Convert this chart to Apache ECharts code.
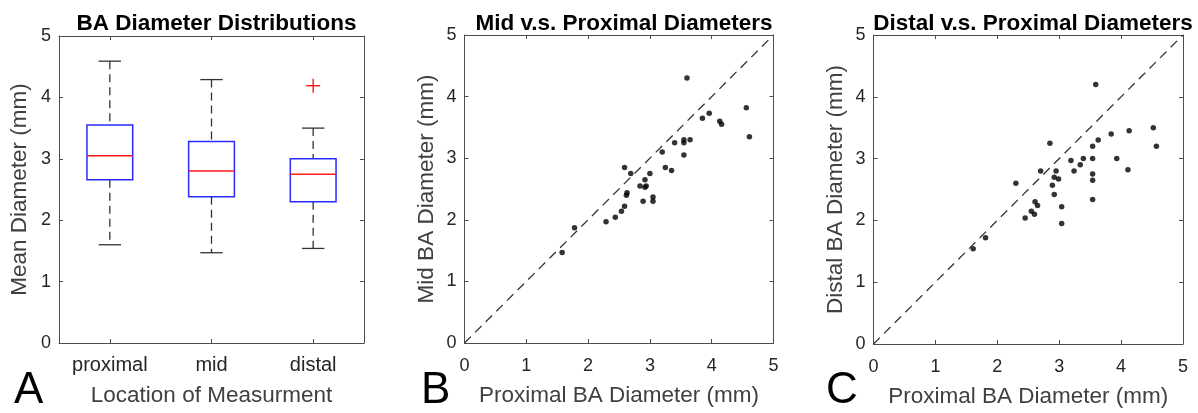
<!DOCTYPE html>
<html>
<head>
<meta charset="utf-8">
<script src="https://cdn.jsdelivr.net/npm/echarts@6/dist/echarts.min.js"></script>
<style>
html,body{margin:0;padding:0;background:#fff;}
#chart{width:1198px;height:413px;}
</style>
</head>
<body>
<div id="chart"></div>
<script>
// ---- Panel A: box plot statistics ----
const categories = ['proximal', 'mid', 'distal'];
const whiskerLow = [1.60, 1.47, 1.54];
const quartile1 = [2.66, 2.38, 2.30];
const medians = [3.05, 2.80, 2.75];
const quartile3 = [3.55, 3.28, 3.00];
const whiskerHigh = [4.59, 4.29, 3.50];
const outlierCategory = [2];
const outlierValue = [4.19];

// ---- Panel B: proximal vs mid ----
const proximalB = [1.58, 1.78, 2.29, 2.44, 2.54, 2.59, 2.62, 2.63, 2.59, 2.69, 2.84, 2.92, 2.92, 2.94, 2.89, 3.00, 3.05, 3.05, 3.20, 3.25, 3.35, 3.40, 3.55, 3.55, 3.65, 3.55, 3.60, 3.85, 3.96, 4.13, 4.16, 4.56, 4.61];
const midB = [1.47, 1.87, 1.97, 2.04, 2.14, 2.22, 2.40, 2.44, 2.85, 2.75, 2.55, 2.65, 2.53, 2.55, 2.30, 2.75, 2.37, 2.30, 3.10, 2.85, 2.80, 3.25, 3.30, 3.25, 3.30, 3.05, 4.30, 3.65, 3.73, 3.60, 3.55, 3.82, 3.35];

// ---- Panel C: proximal vs distal ----
const proximalC = [1.61, 1.81, 2.30, 2.45, 2.55, 2.60, 2.61, 2.65, 2.70, 2.85, 2.89, 2.92, 2.92, 2.95, 2.99, 3.04, 3.04, 3.19, 3.24, 3.34, 3.39, 3.54, 3.54, 3.54, 3.54, 3.54, 3.59, 3.63, 3.84, 3.93, 4.11, 4.13, 4.52, 4.57];
const distalC = [1.54, 1.72, 2.60, 2.04, 2.15, 2.10, 2.30, 2.24, 2.80, 3.25, 2.57, 2.70, 2.42, 2.80, 2.67, 2.22, 1.95, 2.97, 2.80, 2.90, 3.00, 3.20, 3.00, 2.75, 2.65, 2.34, 4.20, 3.30, 3.40, 3.00, 2.82, 3.45, 3.50, 3.20];

const identityLine = [[0, 0], [5, 5]];
const valueTicks = [0, 1, 2, 3, 4, 5];

const FONT = 'Liberation Sans, Arial, sans-serif';
const AXIS_COLOR = '#4d4d4d';
const TICK_TEXT = '#262626';
const NAME_TEXT = '#404040';
const NAME_SIZE = 22.5;

const chart = echarts.init(document.getElementById('chart'), null, {renderer: 'canvas'});

const grids = [
  {left: 59, top: 36, width: 305, height: 307},
  {left: 464.5, top: 35, width: 309, height: 308},
  {left: 873.5, top: 35, width: 309.5, height: 309}
];

function valueAxis(gridIndex, position, showLabels, name, nameGap) {
  return {
    type: 'value', gridIndex, position, min: valueTicks[0], max: valueTicks[valueTicks.length - 1], interval: 1,
    axisLine: {show: true, onZero: false, lineStyle: {color: AXIS_COLOR, width: 1}},
    axisTick: {show: true, inside: true, length: 4, lineStyle: {color: AXIS_COLOR}},
    axisLabel: {show: showLabels, color: TICK_TEXT, fontSize: 18, fontFamily: FONT, margin: position === 'bottom' ? 14 : 8},
    splitLine: {show: false},
    name: showLabels ? name : '',
    nameLocation: 'middle', nameGap: nameGap,
    nameTextStyle: {color: NAME_TEXT, fontSize: NAME_SIZE, fontFamily: FONT}
  };
}

const xAxes = [
  {
    type: 'category', gridIndex: 0, position: 'bottom', data: categories,
    axisLine: {show: true, onZero: false, lineStyle: {color: AXIS_COLOR}},
    axisTick: {show: true, inside: true, length: 4, alignWithLabel: true, lineStyle: {color: AXIS_COLOR}},
    axisLabel: {color: TICK_TEXT, fontSize: 20, fontFamily: FONT, margin: 12},
    name: 'Location of Measurment', nameLocation: 'middle', nameGap: 41,
    nameTextStyle: {color: NAME_TEXT, fontSize: NAME_SIZE, fontFamily: FONT}
  },
  {
    type: 'category', gridIndex: 0, position: 'top', data: categories,
    axisLine: {show: true, onZero: false, lineStyle: {color: AXIS_COLOR}},
    axisTick: {show: true, inside: true, length: 4, alignWithLabel: true, lineStyle: {color: AXIS_COLOR}},
    axisLabel: {show: false}
  },
  valueAxis(1, 'bottom', true, 'Proximal BA Diameter (mm)', 41),
  valueAxis(1, 'top', false, '', 0),
  valueAxis(2, 'bottom', true, 'Proximal BA Diameter (mm)', 41),
  valueAxis(2, 'top', false, '', 0)
];

const yAxes = [
  valueAxis(0, 'left', true, 'Mean Diameter (mm)', 28),
  valueAxis(0, 'right', false, '', 0),
  valueAxis(1, 'left', true, 'Mid BA Diameter (mm)', 26),
  valueAxis(1, 'right', false, '', 0),
  valueAxis(2, 'left', true, 'Distal BA Diameter (mm)', 26),
  valueAxis(2, 'right', false, '', 0)
];

const boxData = categories.map((c, i) => [i, whiskerLow[i], quartile1[i], medians[i], quartile3[i], whiskerHigh[i]]);
const outlierData = outlierCategory.map((c, i) => [c, outlierValue[i]]);

function renderBox(params, api) {
  const i = api.value(0);
  const lo = api.coord([i, api.value(1)]);
  const q1 = api.coord([i, api.value(2)]);
  const md = api.coord([i, api.value(3)]);
  const q3 = api.coord([i, api.value(4)]);
  const hi = api.coord([i, api.value(5)]);
  const band = api.size([1, 0])[0];
  const bw = band * 0.45, cw = band * 0.22;
  const x = lo[0];
  const wStyle = {stroke: '#333', lineWidth: 1.3, lineDash: [8, 5]};
  const cStyle = {stroke: '#333', lineWidth: 1.3};
  return {
    type: 'group',
    children: [
      {type: 'line', shape: {x1: x, y1: hi[1], x2: x, y2: q3[1]}, style: wStyle},
      {type: 'line', shape: {x1: x, y1: q1[1], x2: x, y2: lo[1]}, style: wStyle},
      {type: 'line', shape: {x1: x - cw / 2, y1: hi[1], x2: x + cw / 2, y2: hi[1]}, style: cStyle},
      {type: 'line', shape: {x1: x - cw / 2, y1: lo[1], x2: x + cw / 2, y2: lo[1]}, style: cStyle},
      {type: 'rect', shape: {x: x - bw / 2, y: q3[1], width: bw, height: q1[1] - q3[1]}, style: {fill: 'none', stroke: '#2a2aff', lineWidth: 1.5}},
      {type: 'line', shape: {x1: x - bw / 2, y1: md[1], x2: x + bw / 2, y2: md[1]}, style: {stroke: '#ff1a1a', lineWidth: 1.5}}
    ]
  };
}

function renderPlus(params, api) {
  const p = api.coord([api.value(0), api.value(1)]);
  const h = 7;
  return {
    type: 'group',
    children: [
      {type: 'line', shape: {x1: p[0] - h, y1: p[1], x2: p[0] + h, y2: p[1]}, style: {stroke: '#ff0000', lineWidth: 1.3}},
      {type: 'line', shape: {x1: p[0], y1: p[1] - h, x2: p[0], y2: p[1] + h}, style: {stroke: '#ff0000', lineWidth: 1.3}}
    ]
  };
}

const diagStyle = {color: '#333', width: 1.3, type: [9, 6]};
const titleStyle = {fontSize: 22.5, fontWeight: 'bold', color: '#000', fontFamily: FONT};

const option = {
  backgroundColor: '#fff',
  animation: false,
  title: [
    {text: 'BA Diameter Distributions', left: 211.5, top: 7, textAlign: 'center', textStyle: titleStyle},
    {text: 'Mid v.s. Proximal Diameters', left: 619, top: 7, textAlign: 'center', textStyle: titleStyle},
    {text: 'Distal v.s. Proximal Diameters', left: 1028, top: 7, textAlign: 'center', textStyle: titleStyle}
  ],
  grid: grids,
  xAxis: xAxes,
  yAxis: yAxes,
  series: [
    {type: 'custom', xAxisIndex: 0, yAxisIndex: 0, data: boxData, renderItem: renderBox, encode: {x: 0, y: [1, 2, 3, 4, 5]}, silent: true},
    {type: 'custom', xAxisIndex: 0, yAxisIndex: 0, data: outlierData, renderItem: renderPlus, encode: {x: 0, y: 1}, silent: true},
    {type: 'line', xAxisIndex: 2, yAxisIndex: 2, data: identityLine, symbol: 'none', lineStyle: diagStyle, silent: true},
    {type: 'scatter', xAxisIndex: 2, yAxisIndex: 2, data: proximalB.map((v, i) => [v, midB[i]]), symbol: 'circle', symbolSize: 5.5, itemStyle: {color: '#000'}},
    {type: 'line', xAxisIndex: 4, yAxisIndex: 4, data: identityLine, symbol: 'none', lineStyle: diagStyle, silent: true},
    {type: 'scatter', xAxisIndex: 4, yAxisIndex: 4, data: proximalC.map((v, i) => [v, distalC[i]]), symbol: 'circle', symbolSize: 5.5, itemStyle: {color: '#000'}}
  ],
  graphic: [
    {type: 'text', left: 14, top: 369, style: {text: 'A', fontSize: 44, fontFamily: FONT, fill: '#000'}},
    {type: 'text', left: 421, top: 369, style: {text: 'B', fontSize: 44, fontFamily: FONT, fill: '#000'}},
    {type: 'text', left: 826, top: 369, style: {text: 'C', fontSize: 44, fontFamily: FONT, fill: '#000'}}
  ]
};

chart.setOption(option);
</script>
</body>
</html>
